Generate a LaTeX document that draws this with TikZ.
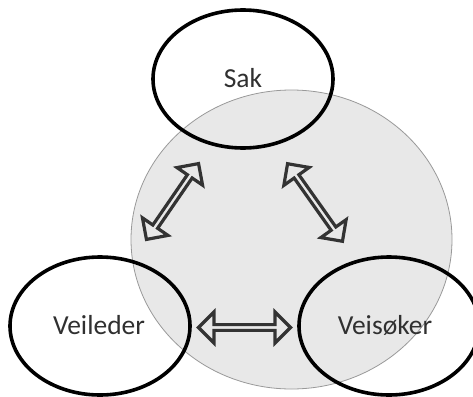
\documentclass[tikz,border=0pt]{standalone}
\usepackage{fontspec}
\setmainfont{Carlito}
\usetikzlibrary{shapes.geometric,shapes.arrows}
\definecolor{circfill}{HTML}{E8E8E8}
\definecolor{circline}{HTML}{999999}
\definecolor{arrline}{HTML}{333333}
\definecolor{txt}{HTML}{303030}
\tikzset{
  role/.style={ellipse, draw=black, line width=3.6pt, minimum width=180pt, minimum height=138pt, inner sep=0pt},
  rolelbl/.style={text=txt, font=\fontsize{27.5}{32}\selectfont, inner sep=0pt},
  dblarrow/.style={double arrow, draw=arrline, line width=3.2pt, fill=circfill, minimum width=31pt, double arrow head extend=7pt, inner sep=0pt, double arrow tip angle=90},
}
\begin{document}
\begin{tikzpicture}[x=1pt,y=-1pt]
\useasboundingbox (0,0) rectangle (473,396);
\clip (0,0) rectangle (473,396);
\fill[white] (0,0) rectangle (473,396);
\node[ellipse, draw=circline, line width=0.8pt, fill=circfill, minimum width=321pt, minimum height=299pt, inner sep=0pt] (field) at (291.5,239.5) {};
\node[role] (sak) at (243,79) {};
\node[rolelbl] (saklbl) at (243,78) {Sak};
\node[role] (veil) at (100,326) {};
\node[rolelbl] (veillbl) at (99,325) {Veileder};
\node[role] (veis) at (389,326) {};
\node[rolelbl] (veislbl) at (385,325) {Veisøker};
\node[dblarrow, minimum height=92pt, rotate=55.5] (a1) at (172.5,201.5) {};
\node[dblarrow, minimum height=95pt, rotate=-54.7] (a2) at (315,202.5) {};
\node[dblarrow, minimum height=92pt] (a3) at (244.5,327.5) {};
\end{tikzpicture}
\end{document}
